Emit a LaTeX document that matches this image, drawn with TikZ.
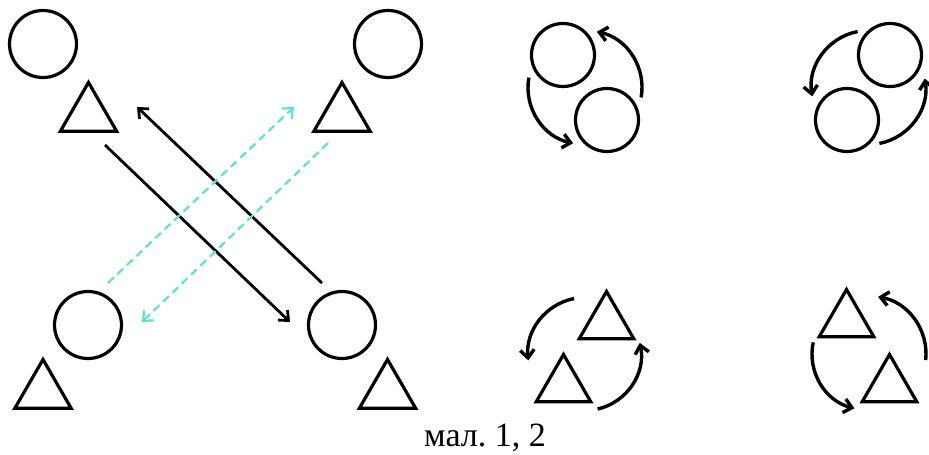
\documentclass[tikz,border=0pt]{standalone}
\usepackage{fontspec}
\setmainfont{Liberation Serif}
\usepackage{tikz}
\usetikzlibrary{shapes}
\usetikzlibrary{arrows.meta}

\definecolor{aqua}{RGB}{95,225,205}

\tikzset{
    ring/.style={draw, circle, minimum size=#1, inner sep=0pt},
    tri/.style={draw, regular polygon, regular polygon sides=3, minimum size=#1, inner sep=0pt},
    barb/.style={-{Straight Barb[length=8pt, width=14pt]}},
    swapline/.style={color=aqua, line width=2.2pt, dash pattern=on 8pt off 5pt, barb}
}

\begin{document}
\begin{tikzpicture}[x=1pt, y=1pt, line width=3.2pt]
            \useasboundingbox (0, 0) rectangle (929, 455);

            % draw the four pairs on the left
            \node[ring=67] (c1) at ( 43, 411) {};
            \node[tri=65]  (t1) at ( 88.5, 340) {};
            \node[ring=67] (c2) at (388, 411) {};
            \node[tri=65]  (t2) at (342, 340) {};
            \node[ring=67] (c3) at ( 88, 130) {};
            \node[tri=65]  (t3) at ( 43, 63) {};
            \node[ring=67] (c4) at (342, 130) {};
            \node[tri=65]  (t4) at (387.5, 63) {};

            % ends of the crossing arrows
            \coordinate (s1) at (105, 310);
            \coordinate (e1) at (290, 133);
            \coordinate (s2) at (322, 172);
            \coordinate (e2) at (137, 348);
            \coordinate (s3) at (108, 172);
            \coordinate (e3) at (294, 348);
            \coordinate (s4) at (328, 312);
            \coordinate (e4) at (142, 133);

            % draw black arrows
            \draw[barb, line width=2.8pt] (s1) -- (e1);
            \draw[barb, line width=2.8pt] (s2) -- (e2);

            % draw dashed arrows
            \draw[swapline] (s3) -- (e3);
            \draw[swapline] (s4) -- (e4);

            % draw circle pairs on the right
            \coordinate (m1) at (585, 367.5);
            \node[ring=63] (c5) at (563, 400) {};
            \node[ring=63] (c6) at (607, 335) {};
            \draw[barb, line width=3.4pt] (m1) ++(170 : 57) arc [radius = 57, start angle = 170, end angle = 258];
            \draw[barb, line width=3.4pt] (m1) ++(350 : 57) arc [radius = 57, start angle = 350, end angle = 438];

            \coordinate (m2) at (868.5, 367.5);
            \node[ring=63] (c7) at (890, 400) {};
            \node[ring=63] (c8) at (847, 335) {};
            \draw[barb, line width=3.4pt] (m2) ++(101 : 57) arc [radius = 57, start angle = 101, end angle = 189];
            \draw[barb, line width=3.4pt] (m2) ++(281 : 57) arc [radius = 57, start angle = 281, end angle = 369];

            % draw triangle pairs on the right
            \coordinate (m3) at (585, 100.5);
            \node[tri=63] (t5) at (606.5, 132) {};
            \node[tri=63] (t6) at (563.5, 69) {};
            \draw[barb, line width=3.4pt] (m3) ++(101 : 57) arc [radius = 57, start angle = 101, end angle = 186];
            \draw[barb, line width=3.4pt] (m3) ++(283 : 56) arc [radius = 56, start angle = 283, end angle = 372];

            \coordinate (m4) at (868, 101);
            \node[tri=63] (t7) at (846.5, 134) {};
            \node[tri=63] (t8) at (889.5, 69) {};
            \draw[barb, line width=3.4pt] (m4) ++(168 : 56) arc [radius = 56, start angle = 168, end angle = 256];
            \draw[barb, line width=3.4pt] (m4) ++(354 : 58) arc [radius = 58, start angle = 354, end angle = 440];

            % caption
            \node[anchor=base, font=\fontsize{34}{40}\selectfont] (cap) at (485, 8) {мал.\ 1, 2};
\end{tikzpicture}
\end{document}
